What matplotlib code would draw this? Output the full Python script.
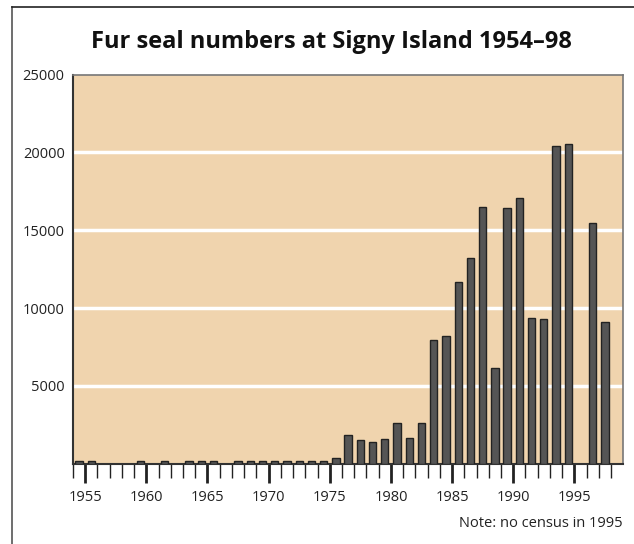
import matplotlib
matplotlib.use('Agg')
import matplotlib.pyplot as plt
from matplotlib.lines import Line2D
import numpy as np

plt.rcParams['font.family'] = ['Open Sans', 'DejaVu Sans']

# census years and counts (no census in 1995)
years = [1954, 1955, 1959, 1961, 1963, 1964, 1965, 1967, 1968, 1969, 1970,
         1971, 1972, 1973, 1974, 1975, 1976, 1977, 1978, 1979, 1980, 1981,
         1982, 1983, 1984, 1985, 1986, 1987, 1988, 1989, 1990, 1991, 1992,
         1993, 1994, 1996, 1997]
seals = [200, 200, 200, 200, 200, 200, 200, 200, 200, 200, 200,
         200, 200, 200, 200, 350, 1860, 1500, 1420, 1580, 2650, 1670,
         2650, 7940, 8200, 11690, 13230, 16470, 6120, 16400, 17050, 9370, 9290,
         20410, 20520, 15440, 9120]
ytick_vals = [5000, 10000, 15000, 20000, 25000]
major_years = [1955, 1960, 1965, 1970, 1975, 1980, 1985, 1990, 1995]

fig = plt.figure(figsize=(6.34, 5.44), dpi=100)
ax = fig.add_axes([0.1151, 0.1475, 0.868, 0.7155])
ax.set_facecolor('#f0d4ae')

x = np.array(years) + 0.5
ax.bar(x, seals, width=0.6, color='#555555', edgecolor='#222222', linewidth=1, zorder=3)

for v in ytick_vals[:-1]:
    ax.axhline(v, color='white', lw=2.5, zorder=2)

ax.set_xlim(1954, 1999)
ax.set_ylim(0, 25000)

ax.set_yticks(ytick_vals)
ax.set_yticklabels([str(v) for v in ytick_vals], fontsize=10.5, color='#222222')
ax.tick_params(axis='y', length=0, pad=6)

ax.set_xticks(major_years)
ax.set_xticklabels([str(v) for v in major_years], fontsize=10.5, color='#222222')
ax.set_xticks(np.arange(1954, 1999), minor=True)
ax.tick_params(axis='x', which='major', length=14, width=2, color='#222222', pad=5)
ax.tick_params(axis='x', which='minor', length=10, width=1, color='#222222')

for s in ['left', 'bottom']:
    ax.spines[s].set_color('#333333')
    ax.spines[s].set_linewidth(1.5)
for s in ['top', 'right']:
    ax.spines[s].set_color('#777777')
    ax.spines[s].set_linewidth(1.2)

fig.text(0.522, 0.922, 'Fur seal numbers at Signy Island 1954\u201398',
         ha='center', va='center', fontsize=17, fontweight='bold', color='#111111')
fig.text(0.982, 0.038, 'Note: no census in 1995', ha='right', va='center',
         fontsize=10.5, color='#222222')

# outer frame (left and top edges)
fig.add_artist(Line2D([12 / 634, 12 / 634], [0, 1 - 7 / 544], transform=fig.transFigure,
                      color='#555555', lw=1.2))
fig.add_artist(Line2D([12 / 634, 1], [1 - 7 / 544, 1 - 7 / 544], transform=fig.transFigure,
                      color='#222222', lw=1.2))

fig.savefig('out.png', dpi=100)
